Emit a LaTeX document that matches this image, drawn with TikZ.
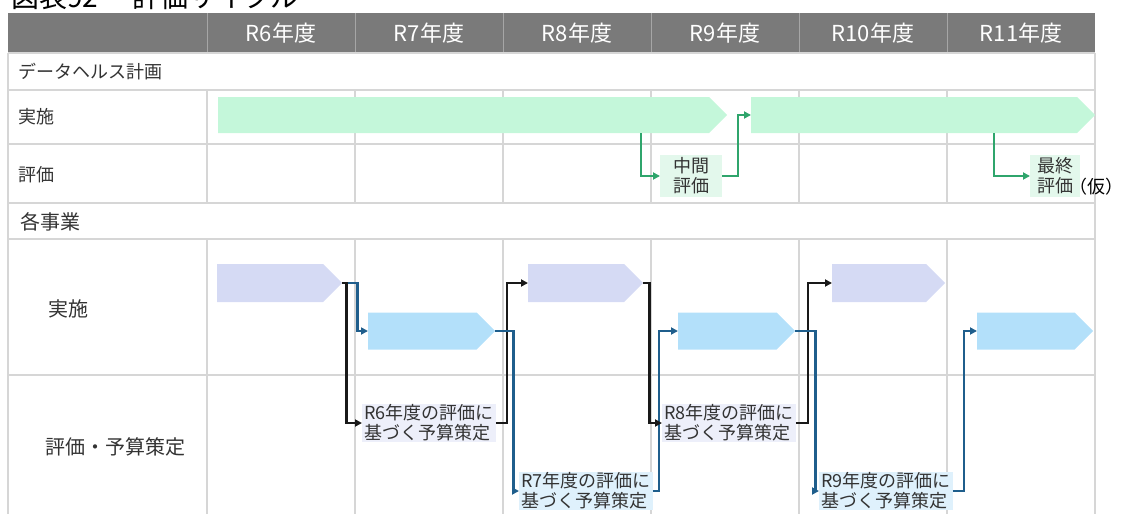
\documentclass[tikz,border=0pt]{standalone}
\usepackage{fontspec}
\setmainfont{Noto Sans CJK JP}
\usepackage{xcolor}
\usetikzlibrary{arrows.meta,shapes.symbols}
\definecolor{headgray}{HTML}{7A7A7A}
\definecolor{gridgray}{HTML}{D6D6D6}
\definecolor{mint}{HTML}{C4F7DA}
\definecolor{mintpale}{HTML}{E3F8EC}
\definecolor{mintline}{HTML}{2FA56C}
\definecolor{lavender}{HTML}{D5DAF4}
\definecolor{lavpale}{HTML}{EDEFFA}
\definecolor{sky}{HTML}{B3E0FA}
\definecolor{skypale}{HTML}{DFF1FC}
\definecolor{navy}{HTML}{1F5E8C}
\definecolor{labelgray}{HTML}{333333}

\begin{document}
\begin{tikzpicture}[x=1pt,y=-1pt,
  gridline/.style={gridgray,line width=1.2pt},
  bar/.style={shape=signal,signal to=east,signal pointer angle=90,
    minimum height=37pt,inner sep=0pt,anchor=west},
  greenbar/.style={bar,fill=mint},
  purplebar/.style={bar,fill=lavender},
  bluebar/.style={bar,fill=sky},
  rowlabel/.style={anchor=west,inner sep=0pt,text=labelgray,
    font=\fontsize{18}{20}\selectfont},
  biglabel/.style={rowlabel,font=\fontsize{20}{22}\selectfont},
  headlabel/.style={text=white,font=\fontsize{22}{24}\selectfont},
  evalbox/.style={anchor=west,inner xsep=2pt,inner ysep=1pt,align=left,
    text=labelgray,font=\fontsize{18}{20}\selectfont},
  midbox/.style={anchor=west,fill=mintpale,align=center,inner sep=0pt,
    minimum height=42pt,text=labelgray,font=\fontsize{18}{20}\selectfont},
  tip/.style={-{Triangle[length=7pt,width=7pt]}},
  garrow/.style={tip,mintline,line width=2pt},
  karrow/.style={tip,black!90,line width=2.6pt},
  barrow/.style={tip,navy,line width=2.3pt}]
\useasboundingbox (0,0) rectangle (1126,514);
\clip (0,0) rectangle (1126,514);

% title (cut at top)
\node[anchor=base west,inner sep=0pt,font=\fontsize{28}{30}\selectfont] (title)
  at (11,8) {図表92\hspace{34pt}評価サイクル};

% header row
\fill[headgray] (8,13) rectangle (1095,53);
\foreach \x in {207,355,503,651,799,947} { \draw[gray!70,line width=1pt] (\x,13) -- (\x,53); }
\foreach \yr [count=\i] in {6,...,11} {
  \node[headlabel] (h\yr) at ({133+148*\i},33) {R\yr 年度};
}

% grid
\foreach \y in {53,90,144,203,239,375} { \draw[gridline] (8,\y) -- (1095,\y); }
\draw[gridline] (8,53) -- (8,514);
\draw[gridline] (1095,53) -- (1095,514);
\foreach \x in {207,355,503,651,799,947} {
  \draw[gridline] (\x,90) -- (\x,203);
  \draw[gridline] (\x,239) -- (\x,514);
}

% row labels
\node[rowlabel] (dh) at (18,72) {データヘルス計画};
\node[rowlabel] (jis1) at (18,117) {実施};
\node[rowlabel] (hyo1) at (18,175) {評価};
\node[biglabel] (kaku) at (20,222) {各事業};
\node[biglabel] (jis2) at (48,309) {実施};
\node[biglabel] (hyo2) at (45,447) {評価・予算策定};

% data health plan
\node[greenbar,minimum width=509pt,minimum height=36pt] (g1) at (218,115) {};
\node[greenbar,minimum width=344pt,minimum height=36pt] (g2) at (751,115) {};
\node[midbox,minimum width=62pt] (mid) at (660,176) {中間\\評価};
\node[midbox,minimum width=50pt] (fin) at (1030,176) {最終\\評価};
\node[anchor=west,inner sep=0pt,font=\fontsize{18}{20}\selectfont] (kari)
  at (1069,187) {（仮）};
\draw[garrow] ([xshift=423pt,yshift=-18pt]g1.west) |- (mid.west);
\draw[garrow] (mid.east) -- ++(16,0) |- (g2.west);
\draw[garrow] ([xshift=243pt,yshift=-18pt]g2.west) |- (fin.west);

% each project
\node[purplebar,minimum width=125pt,minimum height=38pt] (p6) at (217,283) {};
\node[bluebar,minimum width=127pt] (b7) at (368,331) {};
\node[purplebar,minimum width=115pt,minimum height=38pt] (p8) at (528,283) {};
\node[bluebar,minimum width=117pt] (b9) at (678,331) {};
\node[purplebar,minimum width=113pt,minimum height=38pt] (p10) at (832,283) {};
\node[bluebar,minimum width=116pt] (b11) at (977,331) {};

\node[evalbox,fill=lavpale] (e6) at (362,423) {R6年度の評価に\\基づく予算策定};
\node[evalbox,fill=skypale] (e7) at (519,491) {R7年度の評価に\\基づく予算策定};
\node[evalbox,fill=lavpale] (e8) at (662,423) {R8年度の評価に\\基づく予算策定};
\node[evalbox,fill=skypale] (e9) at (819,491) {R9年度の評価に\\基づく予算策定};

\draw[barrow] (p6.east) -- ++(15,0) |- (b7.west);
\draw[karrow] (p6.east) -- ++(4,0) |- (e6.west);
\draw[karrow] (e6.east) -- ++(11,0) |- (p8.west);
\draw[barrow] (b7.east) -- ++(18,0) |- (e7.west);
\draw[barrow] (e7.east) -- ++(6,0) |- (b9.west);
\draw[karrow] (p8.east) -- ++(6,0) |- (e8.west);
\draw[karrow] (e8.east) -- ++(12,0) |- (p10.west);
\draw[barrow] (b9.east) -- ++(20,0) |- (e9.west);
\draw[barrow] (e9.east) -- ++(11,0) |- (b11.west);
\end{tikzpicture}
\end{document}
